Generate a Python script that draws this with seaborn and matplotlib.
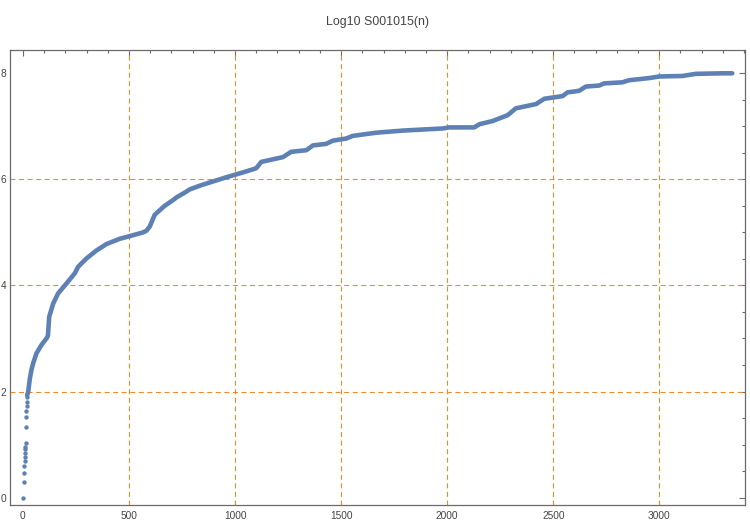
"""Log10 S001015(n) — Mathematica-style frame plot recreated with seaborn"""
import matplotlib
matplotlib.use("Agg")
import matplotlib.pyplot as plt
from matplotlib.ticker import MultipleLocator
import seaborn as sns

# ── data ──
# first isolated points (n, log10 value)
dot_n = [2, 3, 5, 7, 8, 9, 10, 11, 12, 13, 14, 16, 17, 18, 19, 20]
dot_v = [0.00, 0.29, 0.46, 0.59, 0.69, 0.77, 0.84, 0.91, 0.96, 1.03,
         1.34, 1.51, 1.64, 1.73, 1.81, 1.89]

# dense part of the sequence, where dots merge into a band
curve_n = [20, 25, 33, 41, 49, 64, 88, 111, 118, 124, 143, 166, 206, 245,
           260, 300, 347, 394, 457, 504, 566, 582, 598, 621, 629, 668, 708,
           724, 771, 786, 833, 880, 959, 1053, 1100, 1124, 1226, 1265, 1336,
           1367, 1430, 1461, 1524, 1555, 1665, 1791, 1979, 2010, 2128, 2152,
           2214, 2285, 2324, 2419, 2458, 2544, 2567, 2622, 2654, 2717, 2740,
           2826, 2858, 2952, 2999, 3109, 3172, 3297, 3344]
curve_v = [1.93, 1.99, 2.25, 2.42, 2.54, 2.72, 2.88, 3.00, 3.05, 3.41, 3.66,
           3.85, 4.04, 4.23, 4.35, 4.51, 4.66, 4.78, 4.88, 4.93, 5.00, 5.03,
           5.11, 5.33, 5.36, 5.50, 5.61, 5.66, 5.77, 5.81, 5.88, 5.94, 6.04,
           6.15, 6.21, 6.33, 6.42, 6.52, 6.55, 6.64, 6.67, 6.73, 6.77, 6.82,
           6.88, 6.92, 6.96, 6.98, 6.98, 7.04, 7.10, 7.21, 7.34, 7.42, 7.52,
           7.57, 7.64, 7.67, 7.75, 7.77, 7.81, 7.83, 7.87, 7.91, 7.94, 7.95,
           7.99, 8.00, 8.00]

grid_x = [500, 1000, 1500, 2000, 2500, 3000]
grid_y = [2, 4, 6]
title = "Log10 S001015(n)"

# ── style ──
sns.set_theme(style="white")
plt.rcParams["font.family"] = ["Liberation Sans", "DejaVu Sans"]

BLUE = "#5E81B5"
ORANGE = "#EE8C2C"
FRAME = "#6b6b6b"
TEXT = "#444444"

fig = plt.figure(figsize=(7.5, 5.25), dpi=100)
ax = fig.add_axes([0.0127, 0.0381, 0.9806, 0.8667])

for gx in grid_x:
    ax.axvline(gx, color=ORANGE, lw=0.8, ls=(0, (4.5, 3.2)), zorder=1)
for gy in grid_y:
    ax.axhline(gy, color=ORANGE, lw=0.8, ls=(0, (4.5, 3.2)), zorder=1)

sns.lineplot(x=curve_n, y=curve_v, ax=ax, color=BLUE, lw=3.3,
             estimator=None, sort=False, zorder=3,
             solid_capstyle="round", solid_joinstyle="round")
sns.scatterplot(x=dot_n, y=dot_v, ax=ax, color=BLUE, s=10,
                linewidth=0, zorder=3)

ax.set_xlim(-63, 3404)
ax.set_ylim(-0.14, 8.44)
ax.xaxis.set_major_locator(MultipleLocator(500))
ax.xaxis.set_minor_locator(MultipleLocator(100))
ax.yaxis.set_major_locator(MultipleLocator(2))
ax.yaxis.set_minor_locator(MultipleLocator(0.5))

for s in ax.spines.values():
    s.set_color(FRAME)
    s.set_linewidth(0.9)

ax.tick_params(which="both", direction="in", color=FRAME, width=0.8,
               top=True, right=True, labelsize=7.3, labelcolor=TEXT)
ax.tick_params(axis="x", which="both", pad=4.5)
ax.tick_params(axis="y", which="both", pad=2.2)
ax.tick_params(which="major", length=4)
ax.tick_params(which="minor", length=2.3)
ax.set_xlabel("")
ax.set_ylabel("")

fig.text(378 / 750, 1 - 22 / 525, title, ha="center", va="center",
         fontsize=8.9, color=TEXT)

fig.savefig("out.png", dpi=100)
plt.close(fig)
